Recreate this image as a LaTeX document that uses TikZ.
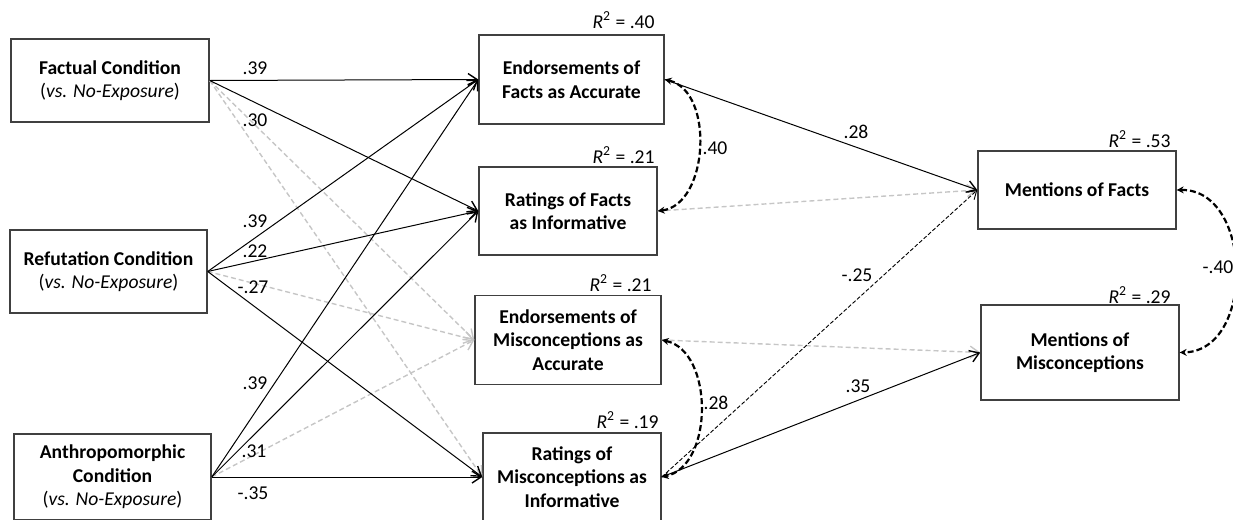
\documentclass[tikz,border=0pt]{standalone}
\usepackage{fontspec}
\setmainfont{Carlito}
\usetikzlibrary{arrows.meta}

\tikzset{
  var/.style={draw=black!75, line width=0.7pt, align=center, inner sep=2pt, font=\fontsize{9.8}{11.8}\selectfont\bfseries},
  rsq/.style={anchor=east, inner sep=0pt, font=\fontsize{9.8}{11.8}\selectfont},
  coef/.style={inner sep=0pt, font=\fontsize{9.8}{11.8}\selectfont},
  sig/.style={-{Straight Barb[length=4.5pt,width=6pt,line width=0.7pt]}, line width=0.5pt},
  nonsig/.style={-{Straight Barb[length=4.5pt,width=6pt]}, draw=gray!45, line width=0.7pt, dash pattern=on 2.5pt off 1.5pt},
  weak/.style={-{Straight Barb[length=4pt,width=5pt]}, line width=0.45pt, dash pattern=on 2pt off 1pt},
  corr/.style={{Stealth[length=3.5pt,width=3.5pt]}-{Stealth[length=3.5pt,width=3.5pt]}, line width=1.1pt, dash pattern=on 3pt off 1.5pt},
}

\begin{document}
\begin{tikzpicture}[x=0.5pt,y=-0.5pt]
\useasboundingbox (0,0) rectangle (1233,520);
% conditions
\node[var, minimum width=99pt, minimum height=41.5pt] (fact) at (110,80.5) {Factual Condition\\{\mdseries(\textit{vs. No-Exposure})}};
\node[var, minimum width=98.5pt, minimum height=41.5pt] (refu) at (108.5,271.5) {Refutation Condition\\{\mdseries(\textit{vs. No-Exposure})}};
\node[var, minimum width=98.5pt, minimum height=43pt] (anth) at (112.5,477) {Anthropomorphic\\Condition\\{\mdseries(\textit{vs. No-Exposure})}};
% mediators
\node[var, minimum width=92.5pt, minimum height=44.5pt] (efa) at (571.5,79.5) {Endorsements of\\Facts as Accurate};
\node[var, minimum width=89pt, minimum height=44pt] (rfi) at (568,211) {Ratings of Facts\\as Informative};
\node[var, minimum width=93pt, minimum height=44.5pt] (ema) at (568,340) {Endorsements of\\Misconceptions as\\Accurate};
\node[var, minimum width=89pt, minimum height=44pt] (rmi) at (572,477) {Ratings of\\Misconceptions as\\Informative};
% outcomes
\node[var, minimum width=99pt, minimum height=39pt] (mf) at (1077,190) {Mentions of Facts};
\node[var, minimum width=99pt, minimum height=47.5pt] (mm) at (1080,352.5) {Mentions of\\Misconceptions};
% R squared
\node[rsq] (efa-r2) at (655,20) {\textit{R}\textsuperscript{2} = .40};
\node[rsq] (rfi-r2) at (655,155) {\textit{R}\textsuperscript{2} = .21};
\node[rsq] (ema-r2) at (652,283) {\textit{R}\textsuperscript{2} = .21};
\node[rsq] (rmi-r2) at (659,420) {\textit{R}\textsuperscript{2} = .19};
\node[rsq] (mf-r2) at (1171,139) {\textit{R}\textsuperscript{2} = .53};
\node[rsq] (mm-r2) at (1171,295) {\textit{R}\textsuperscript{2} = .29};
% non-significant paths
\draw[nonsig] (fact.east) -- (ema.west);
\draw[nonsig] (fact.east) -- (rmi.west);
\draw[nonsig] (refu.east) -- (ema.west);
\draw[nonsig] (anth.east) -- (ema.west);
\draw[nonsig] (rfi.east) -- (mf.west);
\draw[nonsig] (ema.east) -- (mm.west);
% significant paths
\draw[sig] (fact.east) -- (efa.west);
\draw[sig] (fact.east) -- (rfi.west);
\draw[sig] (refu.east) -- (efa.west);
\draw[sig] (refu.east) -- (rfi.west);
\draw[sig] (refu.east) -- (rmi.west);
\draw[sig] (anth.east) -- (efa.west);
\draw[sig] (anth.east) -- (rfi.west);
\draw[sig] (anth.east) -- (rmi.west);
\draw[sig] (efa.east) -- (mf.west);
\draw[sig] (rmi.east) -- (mm.west);
\draw[weak] (rmi.east) -- (mf.west);
% covariances
\draw[corr] (efa.east) to[bend left=80] (rfi.east);
\draw[corr] (ema.east) to[bend left=78] (rmi.east);
\draw[corr] (mf.east) to[bend left=90, looseness=1.2] (mm.east);
% coefficients
\node[coef] (c1) at (255,68) {.39};
\node[coef] (c2) at (255,120) {.30};
\node[coef] (c3) at (255,221) {.39};
\node[coef] (c4) at (255,251) {.22};
\node[coef] (c5) at (253,287) {-.27};
\node[coef] (c6) at (255,383) {.39};
\node[coef] (c7) at (254,451) {.31};
\node[coef] (c8) at (253,493) {-.35};
\node[coef] (c9) at (856,132) {.28};
\node[coef] (c10) at (715,148) {.40};
\node[coef] (c11) at (857,275) {-.25};
\node[coef] (c12) at (716,403) {.28};
\node[coef] (c13) at (858,386) {.35};
\node[coef] (c14) at (1218,267) {-.40};
\end{tikzpicture}
\end{document}
